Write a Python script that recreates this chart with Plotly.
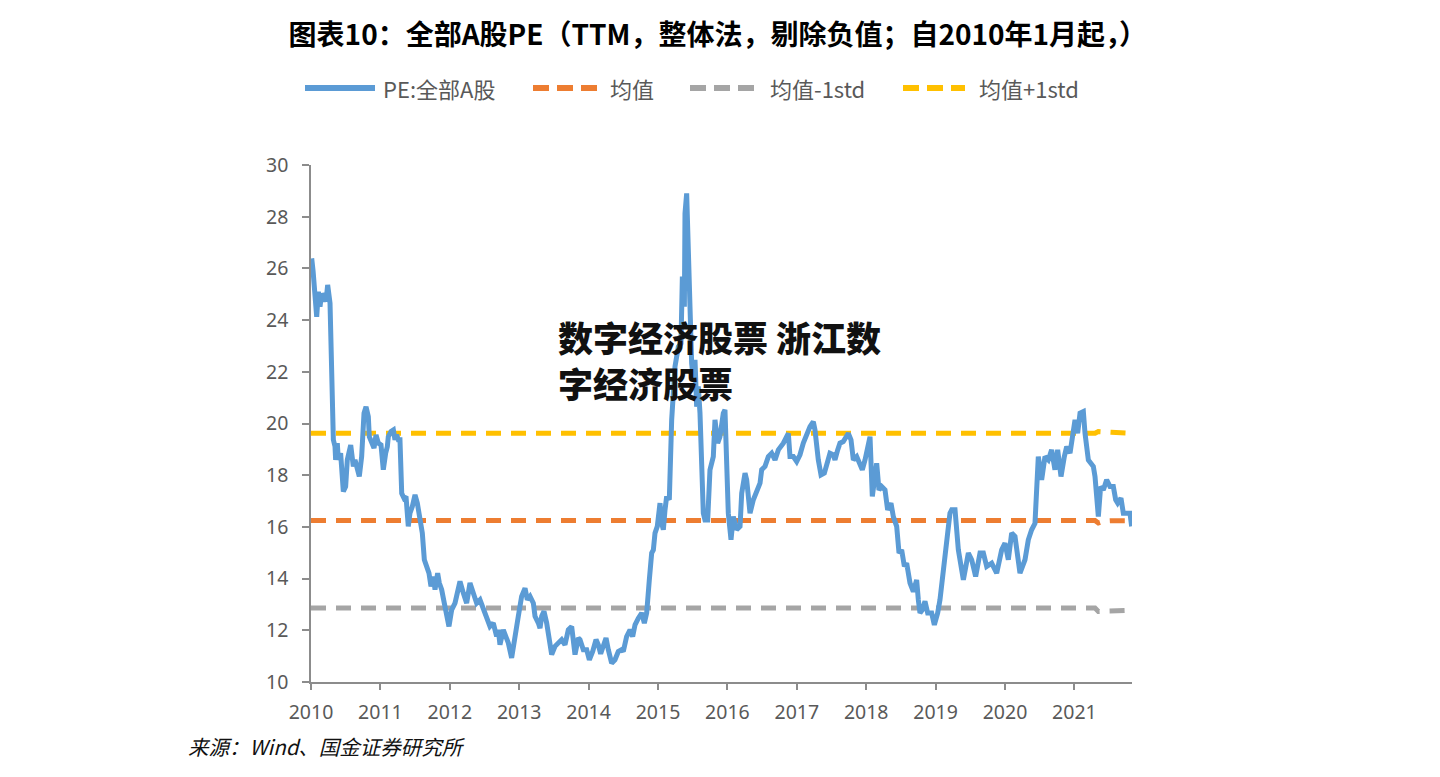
import plotly.graph_objects as go

# ---------------- data ----------------
years = [
    2010.010, 2010.030, 2010.082, 2010.106, 2010.130, 2010.154, 2010.178, 2010.202, 2010.216, 2010.240,
    2010.274, 2010.298, 2010.322, 2010.346, 2010.355, 2010.379, 2010.394, 2010.427, 2010.466, 2010.499,
    2010.523, 2010.572, 2010.610, 2010.634, 2010.668, 2010.696, 2010.730, 2010.764, 2010.793, 2010.826,
    2010.840, 2010.874, 2010.908, 2010.937, 2010.970, 2011.009, 2011.042, 2011.076, 2011.100, 2011.114,
    2011.153, 2011.187, 2011.210, 2011.234, 2011.258, 2011.282, 2011.307, 2011.340, 2011.369, 2011.402,
    2011.426, 2011.460, 2011.499, 2011.532, 2011.571, 2011.604, 2011.633, 2011.667, 2011.700, 2011.729,
    2011.763, 2011.787, 2011.825, 2011.849, 2011.883, 2011.921, 2011.955, 2011.988, 2012.027, 2012.075,
    2012.108, 2012.147, 2012.195, 2012.243, 2012.291, 2012.339, 2012.387, 2012.435, 2012.483, 2012.531,
    2012.579, 2012.627, 2012.675, 2012.699, 2012.723, 2012.771, 2012.819, 2012.843, 2012.891, 2012.939,
    2012.987, 2013.035, 2013.084, 2013.117, 2013.156, 2013.204, 2013.228, 2013.276, 2013.300, 2013.324,
    2013.357, 2013.396, 2013.444, 2013.468, 2013.516, 2013.564, 2013.612, 2013.660, 2013.708, 2013.756,
    2013.804, 2013.852, 2013.876, 2013.924, 2013.972, 2014.011, 2014.059, 2014.107, 2014.140, 2014.174,
    2014.212, 2014.251, 2014.284, 2014.332, 2014.380, 2014.428, 2014.476, 2014.500, 2014.548, 2014.597,
    2014.635, 2014.669, 2014.717, 2014.765, 2014.803, 2014.837, 2014.875, 2014.909, 2014.933, 2014.957,
    2014.990, 2015.029, 2015.053, 2015.077, 2015.101, 2015.125, 2015.163, 2015.183, 2015.197, 2015.245,
    2015.293, 2015.331, 2015.351, 2015.380, 2015.389, 2015.413, 2015.437, 2015.461, 2015.485, 2015.509,
    2015.533, 2015.557, 2015.581, 2015.605, 2015.629, 2015.653, 2015.677, 2015.716, 2015.749, 2015.797,
    2015.821, 2015.860, 2015.893, 2015.917, 2015.941, 2015.965, 2015.989, 2016.013, 2016.052, 2016.085,
    2016.133, 2016.182, 2016.206, 2016.254, 2016.278, 2016.326, 2016.374, 2016.422, 2016.470, 2016.494,
    2016.542, 2016.590, 2016.638, 2016.686, 2016.734, 2016.806, 2016.878, 2016.902, 2016.950, 2016.998,
    2017.046, 2017.094, 2017.142, 2017.190, 2017.238, 2017.262, 2017.310, 2017.349, 2017.397, 2017.430,
    2017.478, 2017.526, 2017.550, 2017.589, 2017.622, 2017.670, 2017.704, 2017.743, 2017.781, 2017.815,
    2017.863, 2017.911, 2017.944, 2017.983, 2018.021, 2018.055, 2018.088, 2018.127, 2018.151, 2018.184,
    2018.223, 2018.271, 2018.309, 2018.357, 2018.391, 2018.439, 2018.473, 2018.511, 2018.550, 2018.583,
    2018.631, 2018.679, 2018.727, 2018.751, 2018.775, 2018.809, 2018.847, 2018.886, 2018.943, 2018.982,
    2019.030, 2019.063, 2019.112, 2019.160, 2019.207, 2019.232, 2019.280, 2019.328, 2019.400, 2019.472,
    2019.520, 2019.577, 2019.640, 2019.688, 2019.736, 2019.808, 2019.880, 2019.952, 2020.000, 2020.048,
    2020.096, 2020.144, 2020.216, 2020.288, 2020.336, 2020.384, 2020.432, 2020.480, 2020.528, 2020.576,
    2020.624, 2020.672, 2020.720, 2020.759, 2020.807, 2020.855, 2020.889, 2020.937, 2020.985, 2021.009,
    2021.047, 2021.081, 2021.129, 2021.153, 2021.201, 2021.249, 2021.273, 2021.297, 2021.330, 2021.345,
    2021.378, 2021.417, 2021.465, 2021.513, 2021.561, 2021.595, 2021.624, 2021.671, 2021.705, 2021.753,
    2021.801, 2021.825,
]

pe_all_a = [
    26.39, 25.90, 24.13, 25.10, 24.52, 25.04, 24.71, 25.04, 24.71, 25.36,
    24.65, 21.94, 19.37, 19.11, 18.59, 19.24, 18.59, 18.85, 17.37, 17.56,
    18.59, 19.17, 18.34, 18.59, 18.21, 17.95, 18.72, 20.40, 20.65, 20.27,
    19.49, 19.24, 19.05, 19.56, 19.24, 19.17, 18.21, 18.85, 19.11, 19.49,
    19.69, 19.75, 19.37, 19.56, 19.37, 19.37, 17.30, 17.11, 17.18, 16.02,
    16.53, 16.79, 17.24, 16.92, 16.27, 15.76, 14.73, 14.47, 14.21, 13.70,
    14.08, 13.57, 14.21, 13.83, 13.57, 13.05, 12.54, 12.15, 12.79, 13.05,
    13.44, 13.89, 13.44, 13.05, 13.83, 13.44, 13.05, 13.18, 12.79, 12.54,
    12.15, 12.28, 11.76, 12.02, 11.44, 12.02, 11.64, 11.51, 10.93, 11.89,
    12.54, 13.31, 13.63, 13.18, 13.31, 13.05, 12.54, 12.28, 12.08, 12.54,
    12.73, 12.28, 11.25, 11.06, 11.38, 11.51, 11.64, 11.44, 12.02, 12.15,
    11.06, 11.70, 11.64, 11.25, 11.25, 10.86, 11.18, 11.64, 11.44, 11.09,
    11.44, 11.70, 11.25, 10.73, 10.86, 11.18, 11.25, 11.18, 11.76, 12.02,
    11.76, 12.21, 12.47, 12.67, 12.28, 12.67, 13.95, 14.99, 15.11, 15.76,
    16.02, 16.92, 16.14, 15.89, 16.66, 17.18, 17.05, 18.46, 20.14, 22.20,
    22.97, 23.10, 25.68, 24.52, 28.13, 28.90, 26.19, 24.00, 22.33, 21.69,
    22.46, 20.65, 21.43, 20.40, 18.34, 16.53, 16.27, 16.27, 18.21, 18.72,
    20.14, 19.24, 19.49, 20.14, 20.40, 20.53, 18.46, 16.53, 15.50, 16.40,
    15.89, 16.02, 17.30, 18.08, 17.82, 16.53, 17.05, 17.37, 17.69, 18.21,
    18.34, 18.72, 18.85, 18.59, 18.98, 19.24, 19.62, 18.72, 18.72, 18.53,
    18.79, 19.24, 19.62, 19.88, 20.07, 19.75, 18.59, 18.01, 18.08, 18.40,
    18.85, 18.79, 18.59, 18.98, 19.24, 19.30, 19.43, 19.62, 19.37, 18.59,
    18.72, 18.34, 18.21, 18.59, 19.11, 19.49, 17.18, 18.08, 18.46, 17.43,
    17.56, 17.43, 16.66, 16.92, 16.40, 16.02, 14.99, 15.11, 14.47, 14.60,
    13.83, 13.50, 13.95, 13.18, 12.67, 12.79, 13.12, 12.67, 12.67, 12.21,
    12.67, 13.18, 14.47, 15.50, 16.53, 16.66, 16.66, 15.11, 13.95, 14.99,
    14.73, 14.08, 14.99, 14.99, 14.47, 14.60, 14.21, 15.11, 15.37, 14.73,
    15.76, 15.63, 14.21, 14.73, 15.50, 15.89, 16.14, 18.72, 17.82, 18.72,
    18.59, 18.98, 18.21, 18.98, 17.95, 18.72, 19.11, 18.85, 19.75, 20.14,
    19.62, 20.40, 20.46, 19.62, 18.59, 18.46, 18.34, 17.95, 16.92, 16.40,
    17.56, 17.43, 17.82, 17.56, 17.56, 17.05, 16.92, 17.11, 16.53, 16.53,
    16.53, 16.02,
]

ref_years = [2010.000, 2021.297, 2021.345, 2021.417, 2021.530, 2021.825]
mean_vals = [16.25, 16.25, 16.15, 16.22, 16.24, 16.24]
lower_vals = [12.86, 12.86, 12.73, 12.74, 12.77, 12.77]
upper_vals = [19.62, 19.62, 19.69, 19.69, 19.66, 19.62]

tick_years = [2010, 2011, 2012, 2013, 2014, 2015, 2016, 2017, 2018, 2019, 2020, 2021]
tick_labels = [str(y) for y in tick_years]

series_names = ["PE:全部A股", "均值", "均值-1std", "均值+1std"]
series_colors = ["#5B9BD5", "#ED7D31", "#A5A5A5", "#FFC000"]

title_text = "图表10：全部A股PE（TTM，整体法，剔除负值；自2010年1月起，）"
source_text = "来源：Wind、国金证券研究所"
overlay_lines = ["数字经济股票 浙江数", "字经济股票"]

# ---------------- figure ----------------
CJK = "Noto Sans CJK SC"
DASH = "15px,10px"

fig = go.Figure()
fig.add_trace(go.Scatter(x=ref_years, y=upper_vals, mode="lines", name=series_names[3],
                         line=dict(color=series_colors[3], width=5, dash=DASH)))
fig.add_trace(go.Scatter(x=ref_years, y=lower_vals, mode="lines", name=series_names[2],
                         line=dict(color=series_colors[2], width=5, dash=DASH)))
fig.add_trace(go.Scatter(x=ref_years, y=mean_vals, mode="lines", name=series_names[1],
                         line=dict(color=series_colors[1], width=5, dash=DASH)))
fig.add_trace(go.Scatter(x=years, y=pe_all_a, mode="lines", name=series_names[0],
                         line=dict(color=series_colors[0], width=5)))

axis_color = "#8C8C8C"
tick_font = dict(family="Noto Sans", size=19.5, color="#595959")

fig.update_layout(
    width=1440, height=777,
    margin=dict(l=311, r=308, t=165, b=95),
    paper_bgcolor="white", plot_bgcolor="white",
    showlegend=False,
    title=dict(text=title_text, x=0.4955, xref="paper", xanchor="center",
               y=0.955, yref="container", yanchor="middle",
               font=dict(family=CJK, size=28, color="#000000", weight="bold")),
    xaxis=dict(range=[2010, 2021.83], tickvals=tick_years, ticktext=tick_labels,
               showgrid=False, zeroline=False, showline=True, linecolor=axis_color, linewidth=1.5,
               ticks="outside", ticklen=6, tickwidth=1.5, tickcolor=axis_color,
               tickfont=tick_font, ticklabelstandoff=6),
    yaxis=dict(range=[10, 30], dtick=2, showgrid=False, zeroline=False, showline=True,
               linecolor=axis_color, linewidth=1.5, ticks="outside", ticklen=7, tickwidth=1.5,
               tickcolor=axis_color, tickfont=tick_font, ticklabelstandoff=10),
)

# ---------------- custom legend (long dashed samples as in the original) ----------------
def px_x(p):
    return (p - 311) / 821.0

def px_y(p):
    return (682 - p) / 517.0

legend_y = px_y(88)
legend_items = [
    (305, 375, 381, None),
    (533, 597, 608, "16px,8px"),
    (690, 755, 768, "16px,8px"),
    (903, 965, 977, "16px,8px"),
]
for i, (x0, x1, tx, dash) in enumerate(legend_items):
    ln = dict(color=series_colors[i], width=6)
    if dash:
        ln["dash"] = dash
    fig.add_shape(type="line", xref="paper", yref="paper",
                  x0=px_x(x0), x1=px_x(x1), y0=legend_y, y1=legend_y, line=ln)
    fig.add_annotation(text=series_names[i], xref="paper", yref="paper",
                       x=px_x(tx), y=legend_y, xanchor="left", yanchor="middle",
                       showarrow=False, font=dict(family=CJK, size=22, color="#595959"))

# source note
fig.add_annotation(text="<i>" + source_text + "</i>", xref="paper", yref="paper",
                   x=px_x(186), y=px_y(746), xanchor="left", yanchor="middle",
                   showarrow=False, font=dict(family=CJK, size=20.5, color="#111111"))

# overlay caption (two lines, placed separately)
for line_text, cy in zip(overlay_lines, [336, 382]):
    fig.add_annotation(text=line_text, xref="paper", yref="paper",
                       x=px_x(556), y=px_y(cy), xanchor="left", yanchor="middle", align="left",
                       showarrow=False, font=dict(family=CJK, size=35, color="#111111", weight=900))

fig.write_html("out.html", config={"displayModeBar": False},
               post_script="document.body.style.margin='0';document.body.style.overflow='hidden';")
